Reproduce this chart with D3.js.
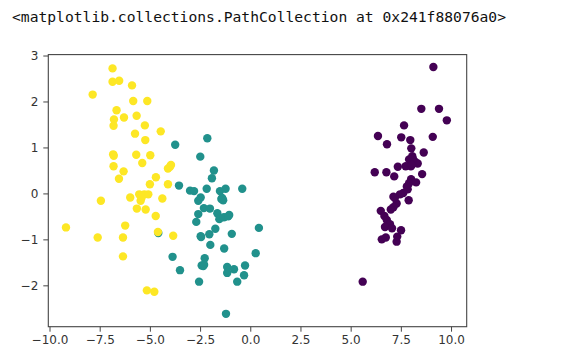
<!DOCTYPE html>
<html>
<head>
<meta charset="utf-8">
<script src="https://cdn.jsdelivr.net/npm/d3@7"></script>
<style>
  body { margin: 0; background: #fff; }
  svg { display: block; }
</style>
</head>
<body>
<div id="chart"></div>
<script>
// notebook output line above the plot
var outputText = "<matplotlib.collections.PathCollection at 0x241f88076a0>";

// class 0 (purple), class 1 (teal), class 2 (yellow) - [x, y]
var class0 = [
  [9.12, 2.75], [8.52, 1.84], [9.40, 1.84], [9.79, 1.59], [7.66, 1.48],
  [6.36, 1.25], [6.81, 1.07], [7.52, 1.22], [7.97, 1.16], [9.09, 1.23],
  [8.02, 0.98], [8.64, 0.89], [8.07, 0.81], [7.91, 0.74], [8.21, 0.69],
  [8.34, 0.65], [8.00, 0.59], [7.74, 0.59], [7.35, 0.58], [6.20, 0.46],
  [6.78, 0.46], [7.17, 0.37], [8.56, 0.42], [8.01, 0.31], [7.91, 0.22],
  [8.26, 0.24], [7.84, 0.09], [7.62, 0.01], [7.46, -0.02], [7.13, -0.07],
  [7.89, -0.15], [7.29, -0.22], [7.13, -0.30], [6.50, -0.38], [6.68, -0.49],
  [6.80, -0.58], [6.96, -0.67], [6.71, -0.73], [7.06, -0.76], [7.51, -0.80],
  [6.55, -1.00], [6.75, -0.96], [7.29, -1.05], [7.32, -0.94], [5.60, -1.92],
  [7.20, -0.10], [8.10, 0.75], [7.00, -0.35], [7.80, 0.15], [8.05, 0.62]
];

var class1 = [
  [-2.14, 1.20], [-3.74, 1.06], [-2.49, 0.80], [-1.81, 0.50], [-1.91, 0.33],
  [-3.55, 0.17], [-3.00, 0.06], [-2.80, 0.05], [-2.17, 0.10], [-1.51, 0.05],
  [-1.23, 0.10], [-0.40, 0.10], [-1.44, -0.12], [-1.35, -0.15], [-2.47, -0.09],
  [-2.59, -0.16], [-2.31, -0.32], [-2.01, -0.33], [-2.59, -0.45], [-2.69, -0.62],
  [-1.64, -0.43], [-1.54, -0.56], [-1.31, -0.52], [-1.05, -0.47], [-1.74, -0.77],
  [0.43, -0.75], [-2.04, -0.89], [-2.47, -0.93], [-0.92, -0.88], [-1.99, -1.12],
  [-4.58, -0.86], [-1.30, -1.20], [0.27, -1.30], [-3.87, -1.38], [-2.27, -1.41],
  [-2.42, -1.57], [-2.34, -1.58], [-3.50, -1.67], [-1.15, -1.60], [-0.81, -1.65],
  [-1.15, -1.73], [-0.26, -1.57], [-0.31, -1.78], [-0.65, -1.92], [-2.55, -1.92],
  [-1.21, -2.62], [-2.45, -0.95], [-1.40, -0.10], [-2.30, -1.55], [-1.10, -0.50]
];

var class2 = [
  [-6.86, 2.72], [-6.86, 2.43], [-6.53, 2.45], [-5.89, 2.35], [-7.85, 2.15],
  [-5.83, 2.01], [-5.13, 2.01], [-6.66, 1.81], [-6.79, 1.61], [-6.81, 1.47],
  [-6.29, 1.65], [-5.66, 1.69], [-5.25, 1.48], [-5.74, 1.30], [-5.23, 1.16],
  [-4.46, 1.35], [-6.83, 0.85], [-5.68, 0.84], [-4.98, 0.83], [-5.38, 0.66],
  [-6.81, 0.59], [-6.31, 0.48], [-6.54, 0.32], [-4.70, 0.35], [-3.95, 0.62],
  [-4.10, 0.54], [-5.00, 0.20], [-4.10, 0.20], [-7.44, -0.16], [-5.98, -0.09],
  [-5.53, -0.02], [-5.28, -0.02], [-5.08, -0.02], [-5.46, -0.16], [-4.38, -0.11],
  [-5.65, -0.33], [-5.21, -0.35], [-4.71, -0.49], [-9.18, -0.74], [-6.23, -0.70],
  [-7.60, -0.96], [-6.34, -0.96], [-4.60, -0.84], [-3.84, -0.92], [-6.34, -1.37],
  [-5.15, -2.11], [-4.78, -2.14], [-6.80, 0.82], [-5.42, -0.10], [-4.00, 0.58]
];

var classColors = ["#440154", "#21918c", "#fde725"];
var xTicks = [-10.0, -7.5, -5.0, -2.5, 0.0, 2.5, 5.0, 7.5, 10.0];
var yTicks = [-2, -1, 0, 1, 2, 3];

var width = 567, height = 363;
var plot = { left: 48.3, right: 466.7, top: 54.6, bottom: 326.7 };
var fontFamily = "'DejaVu Sans', sans-serif";

var svg = d3.select("#chart").append("svg")
  .attr("width", width)
  .attr("height", height);

svg.append("text")
  .attr("x", 12)
  .attr("y", 22)
  .attr("font-family", "'DejaVu Sans Mono', monospace")
  .attr("font-size", "14px")
  .attr("textLength", 494)
  .attr("lengthAdjust", "spacingAndGlyphs")
  .attr("fill", "#111")
  .text(outputText);

var x = d3.scaleLinear().domain([-10.06, 10.78]).range([plot.left, plot.right]);
var y = d3.scaleLinear().domain([-2.9, 3.02]).range([plot.bottom, plot.top]);

// points, drawn in data order like matplotlib
var allPoints = [];
[class0, class1, class2].forEach(function (pts, c) {
  pts.forEach(function (p) {
    allPoints.push({ x: p[0], y: p[1], c: c });
  });
});

svg.append("g")
  .selectAll("circle")
  .data(allPoints)
  .join("circle")
  .attr("cx", function (d) { return x(d.x); })
  .attr("cy", function (d) { return y(d.y); })
  .attr("r", 4.2)
  .attr("fill", function (d) { return classColors[d.c]; });

// axes
var fmtX = function (d) { return d3.format(".1f")(d).replace("-", "\u2212"); };
var fmtY = function (d) { return String(d).replace("-", "\u2212"); };

var xAxis = svg.append("g")
  .attr("transform", "translate(0," + plot.bottom + ")")
  .call(d3.axisBottom(x).tickValues(xTicks).tickFormat(fmtX).tickSize(5).tickPadding(4));

var yAxis = svg.append("g")
  .attr("transform", "translate(" + plot.left + ",0)")
  .call(d3.axisLeft(y).tickValues(yTicks).tickFormat(fmtY).tickSize(5).tickPadding(5));

[xAxis, yAxis].forEach(function (g) {
  g.select(".domain").remove();
  g.selectAll(".tick line").attr("stroke", "#444").attr("stroke-width", 1);
  g.selectAll(".tick text")
    .attr("font-family", fontFamily)
    .attr("font-size", "12px")
    .attr("fill", "#333");
});

// spines
svg.append("rect")
  .attr("x", plot.left)
  .attr("y", plot.top)
  .attr("width", plot.right - plot.left)
  .attr("height", plot.bottom - plot.top)
  .attr("fill", "none")
  .attr("stroke", "#444")
  .attr("stroke-width", 1.1);
</script>
</body>
</html>
